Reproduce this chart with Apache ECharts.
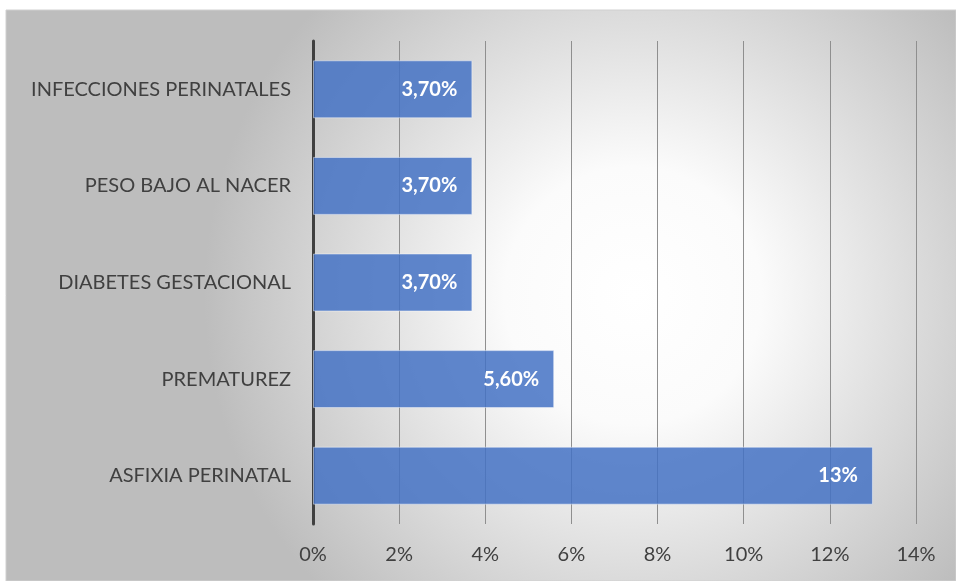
<!DOCTYPE html>
<html>
<head>
<meta charset="utf-8">
<script src="https://cdn.jsdelivr.net/npm/echarts@6/dist/echarts.min.js"></script>
<style>
  html, body { margin: 0; padding: 0; background: #ffffff; }
  #chart { width: 956px; height: 581px; }
</style>
</head>
<body>
<div id="chart"></div>
<script>
// Causes, listed bottom-to-top as drawn on the category axis
const categories = [
  'ASFIXIA PERINATAL',
  'PREMATUREZ',
  'DIABETES GESTACIONAL',
  'PESO BAJO AL NACER',
  'INFECCIONES PERINATALES'
];
// Percentage per cause
const values = [13, 5.6, 3.7, 3.7, 3.7];
// Value axis range (percent)
const axisMin = 0;
const axisMax = 14;
const axisStep = 2;

function pctLabel(v) {
  return Number.isInteger(v) ? v + '%' : v.toFixed(2).replace('.', ',') + '%';
}

const chart = echarts.init(document.getElementById('chart'), null, { renderer: 'canvas' });
const font = 'Lato, "Open Sans", sans-serif';

chart.setOption({
  animation: false,
  graphic: [{
    type: 'rect',
    z: -10,
    shape: { x: 6, y: 10, width: 950, height: 571 },
    style: {
      fill: new echarts.graphic.RadialGradient(0.66, 0.5, 0.75, [
        { offset: 0, color: '#ffffff' },
        { offset: 0.3, color: '#fbfbfb' },
        { offset: 1, color: '#bdbdbd' }
      ]),
      stroke: '#d0d0d0',
      lineWidth: 1
    }
  }],
  grid: { left: 313, right: 40, top: 41, bottom: 57, containLabel: false },
  xAxis: {
    type: 'value',
    min: axisMin,
    max: axisMax,
    interval: axisStep,
    axisLine: { show: false },
    axisTick: { show: false },
    splitLine: { show: true, lineStyle: { color: '#8f8f8f', width: 1 } },
    axisLabel: {
      formatter: v => v + '%',
      color: '#404040',
      fontSize: 20,
      fontFamily: font,
      margin: 21
    }
  },
  yAxis: {
    type: 'category',
    data: categories,
    axisLine: { show: true, lineStyle: { color: '#404040', width: 3 } },
    axisTick: { show: false },
    splitLine: { show: false },
    axisLabel: {
      color: '#404040',
      fontSize: 20,
      fontFamily: font,
      margin: 22
    }
  },
  series: [{
    type: 'bar',
    data: values,
    barCategoryGap: '40%',
    itemStyle: {
      color: 'rgba(68,114,196,0.85)',
      borderColor: 'rgba(255,255,255,0.45)',
      borderWidth: 1
    },
    label: {
      show: true,
      position: 'insideRight',
      distance: 15,
      formatter: p => pctLabel(p.value),
      color: '#ffffff',
      fontWeight: 'bold',
      fontSize: 20,
      fontFamily: font
    }
  }]
});
</script>
</body>
</html>
